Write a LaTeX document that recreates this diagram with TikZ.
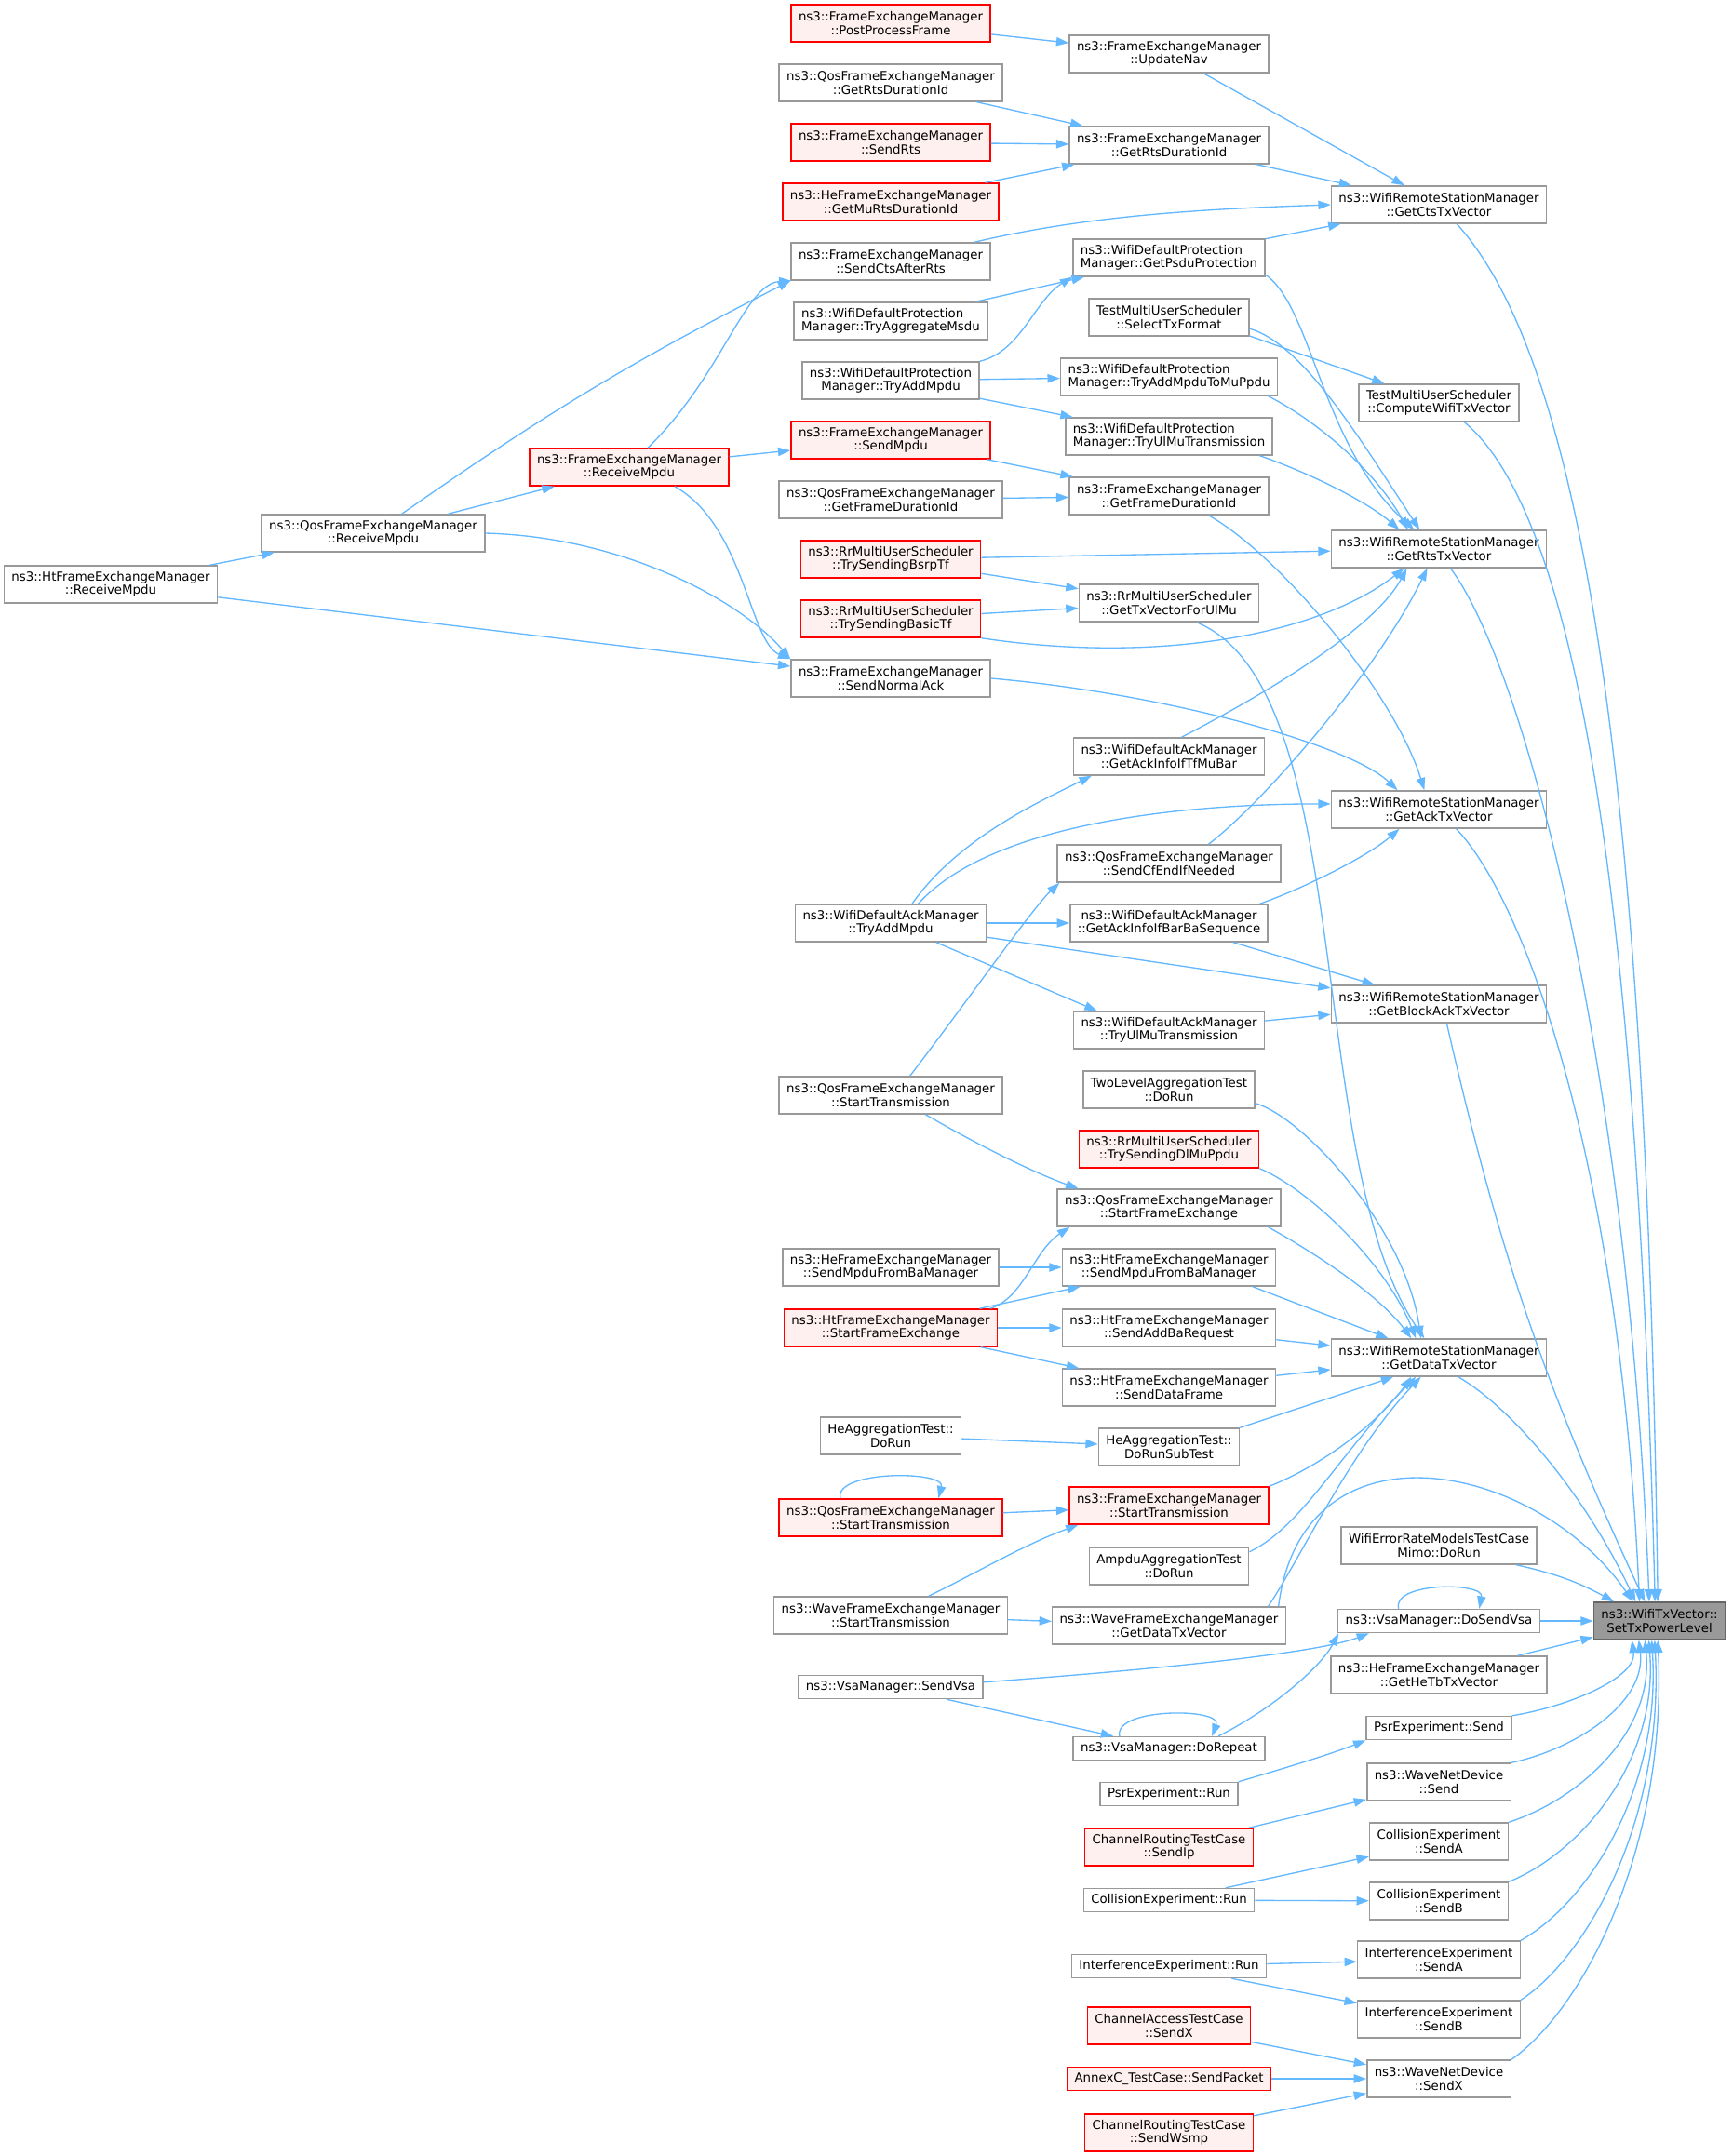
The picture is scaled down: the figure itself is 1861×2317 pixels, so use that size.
\documentclass[tikz,border=0pt]{standalone}
\usepackage{fontspec}
\setmainfont{DejaVu Sans}
\usepackage{tikz}
\usetikzlibrary{arrows.meta}

\definecolor{callblue}{HTML}{63B8FF}
\definecolor{nodegray}{HTML}{999999}
\definecolor{rootborder}{HTML}{666666}
\definecolor{pinkfill}{HTML}{FFF0F0}
\definecolor{rootgray}{HTML}{999999}

\begin{document}
\begin{tikzpicture}[x=0.75pt, y=-0.75pt, >={Triangle[length=10pt,width=7pt]},
    fn/.style={draw=nodegray, fill=white, line width=1.1pt, inner xsep=6pt, inner ysep=0pt, minimum height=30pt, align=center, font=\fontsize{10}{10.9}\selectfont},
    fnleft/.style={fn, align=left},
    fnred/.style={fn, draw=red, fill=pinkfill},
    fnone/.style={fn, minimum height=18.75pt},
    fnonered/.style={fnred, minimum height=18.75pt},
    fnroot/.style={fn, draw=rootborder, fill=rootgray},
    callline/.style={->, draw=callblue, line width=1pt}]

    \path[use as bounding box, fill=white] (0,0) rectangle (1861,2317);

    \node (hrm) [fn] at (119,628) {ns3::HtFrameExchangeManager\\::ReceiveMpdu};
    \node (qrm) [fn] at (401,573) {ns3::QosFrameExchangeManager\\::ReceiveMpdu};
    \node (frm) [fnred] at (676,502) {ns3::FrameExchangeManager\\::ReceiveMpdu};

    \node (ppf) [fnred] at (957,25) {ns3::FrameExchangeManager\\::PostProcessFrame};
    \node (qgrd) [fn] at (957,89) {ns3::QosFrameExchangeManager\\::GetRtsDurationId};
    \node (srts) [fnred] at (957,153) {ns3::FrameExchangeManager\\::SendRts};
    \node (gmrd) [fnred] at (957,217) {ns3::HeFrameExchangeManager\\::GetMuRtsDurationId};
    \node (scar) [fn] at (957,281) {ns3::FrameExchangeManager\\::SendCtsAfterRts};
    \node (tams) [fnleft] at (957,345) {ns3::WifiDefaultProtection\\Manager::TryAggregateMsdu};
    \node (ptam) [fn] at (957,409) {ns3::WifiDefaultProtection\\Manager::TryAddMpdu};
    \node (smpdu) [fnred] at (957,473) {ns3::FrameExchangeManager\\::SendMpdu};
    \node (qgfd) [fn] at (957,537) {ns3::QosFrameExchangeManager\\::GetFrameDurationId};
    \node (bsrp) [fnred] at (957,601) {ns3::RrMultiUserScheduler\\::TrySendingBsrpTf};
    \node (basictf) [fnred] at (957,665) {ns3::RrMultiUserScheduler\\::TrySendingBasicTf};
    \node (sna) [fn] at (957,729) {ns3::FrameExchangeManager\\::SendNormalAck};
    \node (atam) [fn] at (957,992) {ns3::WifiDefaultAckManager\\::TryAddMpdu};
    \node (qst) [fn] at (957,1177) {ns3::QosFrameExchangeManager\\::StartTransmission};
    \node (hsmb) [fn] at (957,1362) {ns3::HeFrameExchangeManager\\::SendMpduFromBaManager};
    \node (hsfe) [fnred] at (957,1427) {ns3::HtFrameExchangeManager\\::StartFrameExchange};
    \node (hadr) [fn] at (957,1543) {HeAggregationTest::\\DoRun};
    \node (qstr) [fnred] at (957,1631) {ns3::QosFrameExchangeManager\\::StartTransmission};
    \node (wst) [fn] at (957,1736) {ns3::WaveFrameExchangeManager\\::StartTransmission};
    \node (svsa) [fnone] at (957,1813) {ns3::VsaManager::SendVsa};

    \node (unav) [fn] at (1256,58) {ns3::FrameExchangeManager\\::UpdateNav};
    \node (fgrd) [fn] at (1256,156) {ns3::FrameExchangeManager\\::GetRtsDurationId};
    \node (gpp) [fnleft] at (1256,277) {ns3::WifiDefaultProtection\\Manager::GetPsduProtection};
    \node (stf) [fn] at (1256,341) {TestMultiUserScheduler\\::SelectTxFormat};
    \node (tamp) [fnleft] at (1256,405) {ns3::WifiDefaultProtection\\Manager::TryAddMpduToMuPpdu};
    \node (pulmu) [fnleft] at (1256,469) {ns3::WifiDefaultProtection\\Manager::TryUlMuTransmission};
    \node (fgfd) [fn] at (1256,533) {ns3::FrameExchangeManager\\::GetFrameDurationId};
    \node (gtvu) [fn] at (1256,648) {ns3::RrMultiUserScheduler\\::GetTxVectorForUlMu};
    \node (gaitm) [fn] at (1256,813) {ns3::WifiDefaultAckManager\\::GetAckInfoIfTfMuBar};
    \node (scfe) [fn] at (1256,928) {ns3::QosFrameExchangeManager\\::SendCfEndIfNeeded};
    \node (gaib) [fn] at (1256,992) {ns3::WifiDefaultAckManager\\::GetAckInfoIfBarBaSequence};
    \node (aulmu) [fn] at (1256,1107) {ns3::WifiDefaultAckManager\\::TryUlMuTransmission};
    \node (tlag) [fn] at (1256,1171) {TwoLevelAggregationTest\\::DoRun};
    \node (dlmu) [fnred] at (1256,1235) {ns3::RrMultiUserScheduler\\::TrySendingDlMuPpdu};
    \node (qsfe) [fn] at (1256,1298) {ns3::QosFrameExchangeManager\\::StartFrameExchange};
    \node (htsmb) [fn] at (1256,1362) {ns3::HtFrameExchangeManager\\::SendMpduFromBaManager};
    \node (saddba) [fn] at (1256,1427) {ns3::HtFrameExchangeManager\\::SendAddBaRequest};
    \node (sdf) [fn] at (1256,1491) {ns3::HtFrameExchangeManager\\::SendDataFrame};
    \node (drst) [fn] at (1256,1555) {HeAggregationTest::\\DoRunSubTest};
    \node (fstr) [fnred] at (1256,1618) {ns3::FrameExchangeManager\\::StartTransmission};
    \node (ampdu) [fn] at (1256,1683) {AmpduAggregationTest\\::DoRun};
    \node (wgdtv) [fn] at (1256,1747) {ns3::WaveFrameExchangeManager\\::GetDataTxVector};
    \node (drep) [fnone] at (1256,1879) {ns3::VsaManager::DoRepeat};
    \node (psrrun) [fnone] at (1256,1928) {PsrExperiment::Run};
    \node (sendip) [fnred] at (1256,1985) {ChannelRoutingTestCase\\::SendIp};
    \node (colrun) [fnone] at (1256,2042) {CollisionExperiment::Run};
    \node (intrun) [fnone] at (1256,2113) {InterferenceExperiment::Run};
    \node (casx) [fnred] at (1256,2177) {ChannelAccessTestCase\\::SendX};
    \node (annexc) [fnonered] at (1256,2234) {AnnexC\_TestCase::SendPacket};
    \node (wsmp) [fnred] at (1256,2292) {ChannelRoutingTestCase\\::SendWsmp};

    \node (gcts) [fn] at (1546,220) {ns3::WifiRemoteStationManager\\::GetCtsTxVector};
    \node (cwtv) [fn] at (1546,433) {TestMultiUserScheduler\\::ComputeWifiTxVector};
    \node (grts) [fn] at (1546,590) {ns3::WifiRemoteStationManager\\::GetRtsTxVector};
    \node (gack) [fn] at (1546,870) {ns3::WifiRemoteStationManager\\::GetAckTxVector};
    \node (gback) [fn] at (1546,1079) {ns3::WifiRemoteStationManager\\::GetBlockAckTxVector};
    \node (gdtv) [fn] at (1546,1459) {ns3::WifiRemoteStationManager\\::GetDataTxVector};
    \node (mimo) [fn] at (1546,1661) {WifiErrorRateModelsTestCase\\Mimo::DoRun};
    \node (dsvsa) [fnone] at (1546,1742) {ns3::VsaManager::DoSendVsa};
    \node (hetb) [fn] at (1546,1800) {ns3::HeFrameExchangeManager\\::GetHeTbTxVector};
    \node (psrsend) [fnone] at (1546,1857) {PsrExperiment::Send};
    \node (wnds) [fn] at (1546,1915) {ns3::WaveNetDevice\\::Send};
    \node (csa) [fn] at (1546,1979) {CollisionExperiment\\::SendA};
    \node (csb) [fn] at (1546,2043) {CollisionExperiment\\::SendB};
    \node (isa) [fn] at (1546,2106) {InterferenceExperiment\\::SendA};
    \node (isb) [fn] at (1546,2170) {InterferenceExperiment\\::SendB};
    \node (wndx) [fn] at (1546,2234) {ns3::WaveNetDevice\\::SendX};

    \node (root) [fnroot] at (1783,1742) {ns3::WifiTxVector::\\SetTxPowerLevel};

    \draw[callline] (ppf) -- (unav);
    \draw[callline] (qgrd) -- (fgrd);
    \draw[callline] (srts) -- (fgrd);
    \draw[callline] (gmrd) -- (fgrd);
    \draw[callline] (unav) -- (gcts);
    \draw[callline] (fgrd) -- (gcts);
    \draw[callline] (scar.13) .. controls (1163,233) and (1279,225) .. (gcts.west);
    \draw[callline] (gpp) -- (gcts);
    \draw[callline] (gcts.-47) .. controls (1710,400) and (1770,900) .. (root.95);

    \draw[callline] (hrm) -- (qrm);
    \draw[callline] (hrm) -- (sna);
    \draw[callline] (qrm) -- (frm);
    \draw[callline] (qrm.34) to[bend left=4] (scar.south west);
    \draw[callline] (qrm.east) .. controls (671,577) and (796,646) .. (sna.north west);
    \draw[callline] (frm.46) .. controls (775,405) and (800,305) .. (scar.-169);
    \draw[callline] (frm) -- (smpdu);
    \draw[callline] (frm.-23) .. controls (800,565) and (805,690) .. (sna.north west);
    \draw[callline] (sna.east) .. controls (1250,745) and (1450,800) .. (gack.155);

    \draw[callline] (tams) -- (gpp);
    \draw[callline] (ptam.north east) .. controls (1097,378) and (1112,322) .. (gpp.south west);
    \draw[callline] (ptam) -- (tamp);
    \draw[callline] (ptam) -- (pulmu);
    \draw[callline] (gpp.-10) .. controls (1410,330) and (1420,480) .. (grts.142);
    \draw[callline] (stf.-8) .. controls (1400,370) and (1460,470) .. (grts.135);
    \draw[callline] (stf.-13) -- (cwtv);
    \draw[callline] (tamp.-11) .. controls (1420,455) and (1480,510) .. (grts.148);
    \draw[callline] (pulmu.-12) .. controls (1409,509) and (1470,540) .. (grts.154);
    \draw[callline] (cwtv.-37) .. controls (1700,560) and (1760,1000) .. (root.103);

    \draw[callline] (smpdu) -- (fgfd);
    \draw[callline] (qgfd) -- (fgfd);
    \draw[callline] (fgfd.-26) .. controls (1380,600) and (1500,750) .. (gack.127);
    \draw[callline] (bsrp) -- (grts);
    \draw[callline] (bsrp) -- (gtvu);
    \draw[callline] (basictf) -- (gtvu);
    \draw[callline] (basictf.south east) .. controls (1250,715) and (1420,680) .. (grts.-151);
    \draw[callline] (gtvu.-35) .. controls (1460,740) and (1400,1250) .. (gdtv.127);
    \draw[callline] (grts.-59) .. controls (1640,720) and (1750,1150) .. (root.118);

    \draw[callline] (gaitm.57) .. controls (1380,735) and (1480,670) .. (grts.-149);
    \draw[callline] (scfe.26) .. controls (1360,860) and (1480,720) .. (grts.-121);
    \draw[callline] (atam.42) .. controls (1030,900) and (1120,860) .. (gaitm.-166);
    \draw[callline] (atam.35) .. controls (1060,890) and (1250,864) .. (gack.177);
    \draw[callline] (atam) -- (gaib);
    \draw[callline] (atam) -- (gback);
    \draw[callline] (atam.-23) -- (aulmu.165);
    \draw[callline] (gaib.12) .. controls (1400,955) and (1470,920) .. (gack.-154);
    \draw[callline] (gaib) -- (gback);
    \draw[callline] (aulmu) -- (gback);
    \draw[callline] (gack.-48) .. controls (1640,970) and (1740,1250) .. (root.136);
    \draw[callline] (gback.-68) to[bend right=6] (root.127);

    \draw[callline] (qst.45) .. controls (1040,1075) and (1110,975) .. (scfe.-170);
    \draw[callline] (qst.-29) .. controls (1050,1230) and (1110,1260) .. (qsfe.168);
    \draw[callline] (tlag.-9) .. controls (1400,1200) and (1510,1320) .. (gdtv.133);
    \draw[callline] (dlmu.south east) .. controls (1410,1280) and (1490,1360) .. (gdtv.140);
    \draw[callline] (qsfe.-11) .. controls (1410,1345) and (1480,1390) .. (gdtv.145);
    \draw[callline] (hsmb) -- (htsmb);
    \draw[callline] (hsfe.11) .. controls (1100,1395) and (1110,1345) .. (qsfe.-169);
    \draw[callline] (hsfe) -- (htsmb);
    \draw[callline] (hsfe) -- (saddba);
    \draw[callline] (hsfe) -- (sdf);
    \draw[callline] (htsmb.-13) -- (gdtv);
    \draw[callline] (saddba) -- (gdtv);
    \draw[callline] (sdf) -- (gdtv);
    \draw[callline] (hadr) -- (drst);
    \draw[callline] (drst.north east) -- (gdtv.-157);
    \draw[callline] (gdtv.-45) .. controls (1620,1510) and (1700,1600) .. (root.141);

    \draw[callline] (qstr.159) .. controls (895,1580) and (1016,1580) .. (qstr.22);
    \draw[callline] (qstr) -- (fstr);
    \draw[callline] (wst.27) .. controls (1050,1690) and (1100,1660) .. (fstr.-168);
    \draw[callline] (wst) -- (wgdtv);
    \draw[callline] (fstr.north east) .. controls (1420,1575) and (1480,1530) .. (gdtv.-145);
    \draw[callline] (ampdu.10) .. controls (1400,1640) and (1440,1560) .. (gdtv.-140);
    \draw[callline] (wgdtv.11) .. controls (1400,1670) and (1450,1560) .. (gdtv.-133);
    \draw[callline] (wgdtv.10) .. controls (1400,1520) and (1650,1570) .. (root.144);
    \draw[callline] (mimo.-14) to[bend left=8] (root.157);

    \draw[callline] (dsvsa.163) .. controls (1495,1700) and (1595,1700) .. (dsvsa.17);
    \draw[callline] (dsvsa) -- (root);
    \draw[callline] (hetb) -- (root);
    \draw[callline] (svsa.3) .. controls (1257,1793) and (1417,1776) .. (dsvsa.-170);
    \draw[callline] (svsa) -- (drep);
    \draw[callline] (drep.166) .. controls (1196,1835) and (1314,1835) .. (drep.16);
    \draw[callline] (drep.14) .. controls (1370,1835) and (1420,1790) .. (dsvsa.-173);

    \draw[callline] (psrsend.north east) .. controls (1685,1834) and (1759,1803) .. (root.-145);
    \draw[callline] (psrrun.north east) .. controls (1381,1900) and (1430,1885) .. (psrsend.south west);
    \draw[callline] (wnds.north east) .. controls (1695,1879) and (1769,1829) .. (root.-137);
    \draw[callline] (sendip) -- (wnds);
    \draw[callline] (csa.north east) .. controls (1698,1933) and (1777,1861) .. (root.-127);
    \draw[callline] (colrun) -- (csa);
    \draw[callline] (colrun) -- (csb);
    \draw[callline] (csb.north east) .. controls (1698,1991) and (1782,1893) .. (root.-119);
    \draw[callline] (isa.north east) .. controls (1704,2046) and (1785,1925) .. (root.-112);
    \draw[callline] (isb.north east) .. controls (1704,2104) and (1788,1957) .. (root.-104);
    \draw[callline] (intrun) -- (isa);
    \draw[callline] (intrun) -- (isb);
    \draw[callline] (wndx.north east) .. controls (1700,2160) and (1791,1989) .. (root.-95);
    \draw[callline] (casx) -- (wndx);
    \draw[callline] (annexc) -- (wndx);
    \draw[callline] (wsmp) -- (wndx);

\end{tikzpicture}
\end{document}
